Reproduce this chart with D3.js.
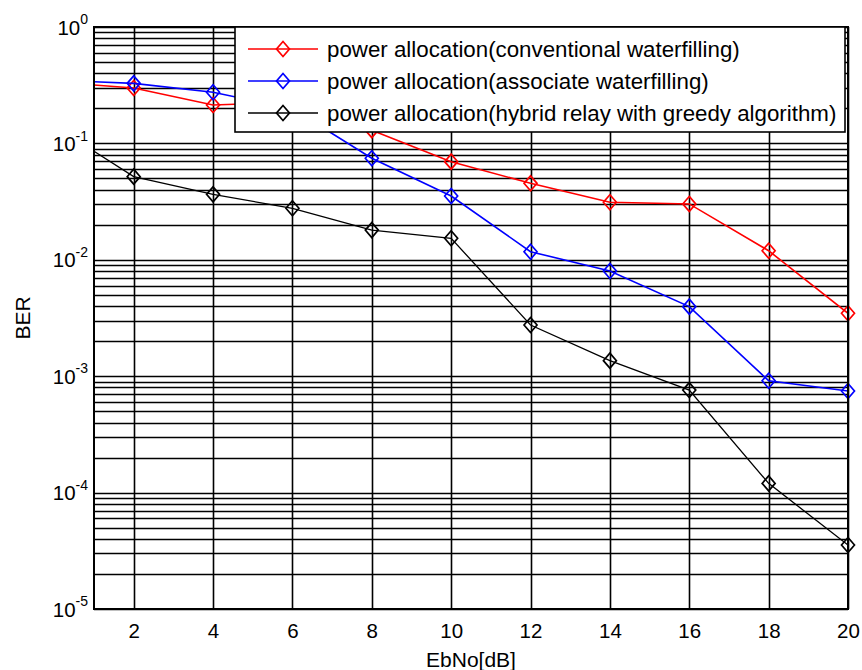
<!DOCTYPE html>
<html><head><meta charset="utf-8">
<script src="https://cdn.jsdelivr.net/npm/d3@7/dist/d3.min.js"></script>
<style>body{margin:0;background:#fff}svg{display:block}text{font-family:"Liberation Sans",Arial,sans-serif;fill:#000}</style>
</head><body><svg id="c" width="862" height="670"></svg>
<script>
const ebno = [0,2,4,6,8,10,12,14,16,18,20];
const conventional = [0.338,0.299,0.214,0.225,0.130,0.0697,0.0454,0.0312,0.0302,0.01197,0.00347];
const associate = [0.35,0.328,0.275,0.198,0.0745,0.0353,0.01174,0.00801,0.00396,0.000915,0.000746];
const hybrid = [0.1415,0.0518,0.0365,0.0277,0.018,0.0153,0.002754,0.00136,0.00076,0.000120,0.0000355];
const seriesNames = ["power allocation(conventional waterfilling)","power allocation(associate waterfilling)","power allocation(hybrid relay with greedy algorithm)"];
const seriesColors = ["#ff0000","#0000ff","#000000"];
const xTicks = [2,4,6,8,10,12,14,16,18,20];
const yExponents = [0,-1,-2,-3,-4,-5];

const svg = d3.select("#c");
const L=94,R=848,T=27,B=609;
const x = d3.scaleLinear().domain([1,20]).range([L,R]);
const y = d3.scaleLog().domain([1e-5,1]).range([B,T]);

// grid
const g = svg.append("g");
const minor = [];
for (let e=-5;e<0;e++) for (let k=1;k<=9;k++) minor.push(k*Math.pow(10,e));
minor.push(1);
g.selectAll("line.h").data(minor).join("line")
 .attr("x1",L).attr("x2",R).attr("y1",d=>Math.round(y(d))+0.5).attr("y2",d=>Math.round(y(d))+0.5)
 .attr("stroke","#000").attr("stroke-width",1.6);
g.selectAll("line.v").data(xTicks).join("line")
 .attr("y1",T).attr("y2",B).attr("x1",d=>Math.round(x(d))+0.5).attr("x2",d=>Math.round(x(d))+0.5)
 .attr("stroke","#000").attr("stroke-width",1.6);

// axes via d3
const xAxis = svg.append("g").attr("transform",`translate(0,${B})`)
 .call(d3.axisBottom(x).tickValues(xTicks).tickSize(0).tickPadding(14));
xAxis.select(".domain").remove();
xAxis.selectAll("text").attr("font-size",20.5).style("font-family","Liberation Sans, Arial");
const yAxis = svg.append("g").attr("transform",`translate(${L},0)`)
 .call(d3.axisLeft(y).tickValues(yExponents.map(e=>Math.pow(10,e))).tickSize(0).tickPadding(22).tickFormat(""));
yAxis.select(".domain").remove();
yAxis.selectAll(".tick").each(function(d,i){
  const t = d3.select(this).append("text").attr("x",-6).attr("dy","0.35em").attr("text-anchor","end").attr("font-size",20.5);
  t.append("tspan").text("10");
  t.append("tspan").attr("dy","-0.75em").attr("font-size",14).text(String(yExponents[i]));
});

svg.append("defs").append("clipPath").attr("id","clip").append("rect")
 .attr("x",L).attr("y",T).attr("width",R-L).attr("height",B-T);

const data = [conventional,associate,hybrid];
const line = d3.line().x((d,i)=>x(ebno[i])).y(d=>y(d));
const diamond = "M0,-7.5L6.5,0L0,7.5L-6.5,0Z";
data.forEach((s,k)=>{
  svg.append("path").attr("d",line(s)).attr("fill","none")
   .attr("stroke",seriesColors[k]).attr("stroke-width",k==2?1.3:1.6).attr("clip-path","url(#clip)");
  svg.append("g").selectAll("path").data(s.map((v,i)=>[ebno[i],v]).filter(p=>p[0]>=1)).join("path")
   .attr("d",diamond).attr("transform",p=>`translate(${x(p[0])},${y(p[1])})`)
   .attr("fill","none").attr("stroke",seriesColors[k]).attr("stroke-width",1.7);
});

// box
svg.append("rect").attr("x",L).attr("y",T).attr("width",R-L).attr("height",B-T)
 .attr("fill","none").attr("stroke","#000").attr("stroke-width",2);

// legend
const lg = svg.append("g");
lg.append("rect").attr("x",235).attr("y",T).attr("width",610).attr("height",105)
 .attr("fill","#fff").attr("stroke","#000").attr("stroke-width",1.6);
seriesNames.forEach((n,k)=>{
  const yy = 49 + k*32;
  lg.append("line").attr("x1",248).attr("x2",318).attr("y1",yy).attr("y2",yy)
   .attr("stroke",seriesColors[k]).attr("stroke-width",k==2?1.3:1.6);
  lg.append("path").attr("d",diamond).attr("transform",`translate(283,${yy})`)
   .attr("fill","none").attr("stroke",seriesColors[k]).attr("stroke-width",1.7);
  lg.append("text").attr("x",327).attr("y",yy).attr("dy","0.35em").attr("font-size",22.3).text(n);
});

// labels
svg.append("text").attr("x",(L+R)/2).attr("y",667).attr("text-anchor","middle").attr("font-size",21).text("EbNo[dB]");
svg.append("text").attr("transform",`translate(30,${(T+B)/2}) rotate(-90)`).attr("text-anchor","middle").attr("font-size",21).text("BER");
</script></body></html>
